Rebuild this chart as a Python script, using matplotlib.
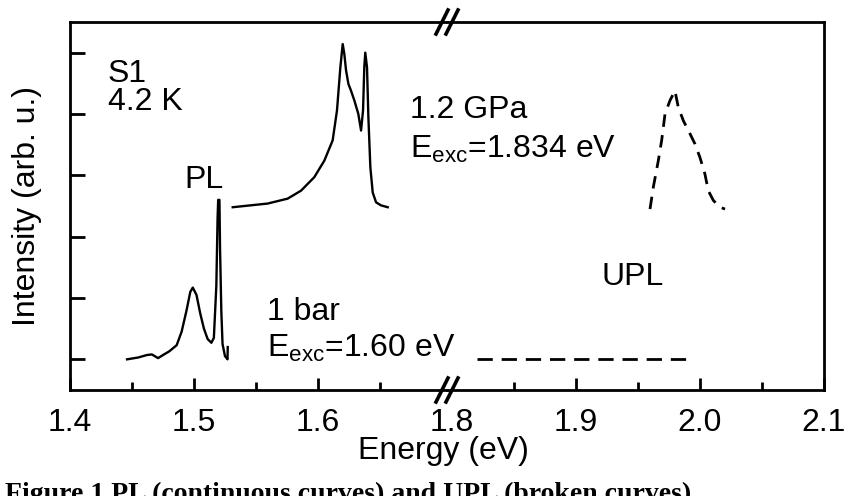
import matplotlib
matplotlib.use("Agg")
import matplotlib.pyplot as plt
from matplotlib.lines import Line2D

plt.rcParams['font.family'] = ['Liberation Sans', 'DejaVu Sans']
plt.rcParams['mathtext.fontset'] = 'custom'
plt.rcParams['mathtext.rm'] = 'Liberation Sans'
plt.rcParams['mathtext.it'] = 'Liberation Sans'

# ---- data (energy in eV, intensity in arb. units, offset per curve) ----
pl_1bar_E = [1.446, 1.455, 1.462, 1.466, 1.471, 1.475, 1.480, 1.486, 1.490, 1.494,
             1.497, 1.499, 1.502, 1.505, 1.508, 1.511, 1.514, 1.516, 1.518, 1.519,
             1.5195, 1.5205, 1.521, 1.522, 1.523, 1.525, 1.526, 1.527, 1.5272]
pl_1bar_I = [0.0, 0.03, 0.07, 0.08, 0.02, 0.07, 0.13, 0.23, 0.45, 0.80,
             1.10, 1.17, 1.05, 0.75, 0.50, 0.33, 0.27, 0.35, 1.2, 2.3,
             2.6, 2.6, 1.8, 0.8, 0.25, 0.05, 0.03, 0.0, 0.2]

pl_gpa_E = [1.5312, 1.5594, 1.5755, 1.5863, 1.597, 1.6051, 1.6118, 1.6153, 1.618,
            1.6199, 1.6212, 1.6226, 1.6245, 1.6266, 1.6293, 1.6325, 1.6347, 1.6363,
            1.6373, 1.6381, 1.6395, 1.6406, 1.6422, 1.6441, 1.6468, 1.6508, 1.6562]
pl_gpa_I = [2.48, 2.54, 2.62, 2.75, 2.97, 3.24, 3.57, 4.06, 4.76,
            5.14, 4.98, 4.71, 4.49, 4.38, 4.22, 4.00, 3.73, 4.06,
            4.76, 5.0, 4.76, 3.95, 3.13, 2.72, 2.56, 2.51, 2.48]

upl_1bar_E = [1.820, 1.9895]
upl_1bar_I = [0.0, 0.0]

upl_gpa_E = [1.9597, 1.9624, 1.9664, 1.9691, 1.9718, 1.9758, 1.9798, 1.9825, 1.9866,
             1.9919, 1.996, 2.0, 2.004, 2.0067, 2.0108, 2.0161, 2.0202]
upl_gpa_I = [2.45, 2.81, 3.24, 3.57, 4.0, 4.22, 4.38, 4.11, 3.89,
             3.68, 3.51, 3.29, 3.02, 2.75, 2.59, 2.48, 2.45]

left_ticks = [1.4, 1.5, 1.6]
left_minor = [1.45, 1.55, 1.65]
right_ticks = [1.8, 1.9, 2.0, 2.1]
right_minor = [1.85, 1.95, 2.05]
tick_labels_left = ['1.4', '1.5', '1.6']
tick_labels_right = ['1.8', '1.9', '2.0', '2.1']
y_ticks = [0, 1, 2, 3, 4, 5]

W, H = 849, 496
fig = plt.figure(figsize=(W / 100, H / 100), dpi=100)

def fx(px):
    return px / W

def fy(py):
    return 1 - py / H

x0, xb, x1 = 70, 447, 824
ytop, ybot = 22, 390
ax1 = fig.add_axes([fx(x0), fy(ybot), fx(xb - x0), (ybot - ytop) / H])
ax2 = fig.add_axes([fx(xb), fy(ybot), fx(x1 - xb), (ybot - ytop) / H])

lw_sp = 2.0
for ax in (ax1, ax2):
    ax.set_ylim(-0.5, 5.5)
    for s in ax.spines.values():
        s.set_linewidth(lw_sp)
    ax.tick_params(axis='x', which='major', direction='in', length=9, width=2,
                   labelsize=23, pad=13, top=False)
    ax.tick_params(axis='x', which='minor', direction='in', length=6, width=2, top=False)

ax1.set_xlim(1.4, 1.704)
ax2.set_xlim(1.796, 2.1)
ax1.spines['right'].set_visible(False)
ax2.spines['left'].set_visible(False)

ax1.set_xticks(left_ticks)
ax1.set_xticklabels(tick_labels_left)
ax1.set_xticks(left_minor, minor=True)
ax2.set_xticks(right_ticks)
ax2.set_xticklabels(tick_labels_right)
ax2.set_xticks(right_minor, minor=True)
ax2.xaxis.get_major_ticks()[0].tick1line.set_visible(False)

ax1.set_yticks(y_ticks)
ax1.set_yticklabels([])
ax1.tick_params(axis='y', direction='in', length=11, width=2, right=False)
ax2.set_yticks([])

ax1.plot(pl_1bar_E, pl_1bar_I, color='black', lw=1.7)
ax1.plot(pl_gpa_E, pl_gpa_I, color='black', lw=1.7)
ax2.plot(upl_1bar_E, upl_1bar_I, color='black', lw=2, dashes=(5.5, 3.2))
ax2.plot(upl_gpa_E, upl_gpa_I, color='black', lw=2, dashes=(4.5, 3.0))

ax1.set_ylabel('Intensity (arb. u.)', fontsize=23, labelpad=17)
fig.text(fx(443), fy(459), 'Energy (eV)', fontsize=23, ha='center', va='baseline')

fs = 23
fig.text(fx(108), fy(82), 'S1', fontsize=fs, va='baseline')
fig.text(fx(108), fy(110), '4.2 K', fontsize=fs, va='baseline')
fig.text(fx(184), fy(188), 'PL', fontsize=fs, va='baseline')
fig.text(fx(410), fy(118), '1.2 GPa', fontsize=fs, va='baseline')
fig.text(fx(410), fy(158), r'E$_{\mathrm{exc}}$=1.834 eV', fontsize=fs, va='baseline')
fig.text(fx(267), fy(320), '1 bar', fontsize=fs, va='baseline')
fig.text(fx(267), fy(357), r'E$_{\mathrm{exc}}$=1.60 eV', fontsize=fs, va='baseline')
fig.text(fx(601), fy(285), 'UPL', fontsize=fs, va='baseline')

# axis-break marks
for yc in (ytop, ybot):
    for dx in (0, 10):
        fig.add_artist(Line2D([fx(436 + dx), fx(448 + dx)], [fy(yc + 12), fy(yc - 12)],
                              color='black', lw=2.6, transform=fig.transFigure))

fig.text(fx(5), fy(501), 'Figure 1 PL (continuous curves) and UPL (broken curves)',
         fontsize=20, fontweight='bold', family='Liberation Serif', va='baseline')

fig.savefig('out.png', dpi=100)
